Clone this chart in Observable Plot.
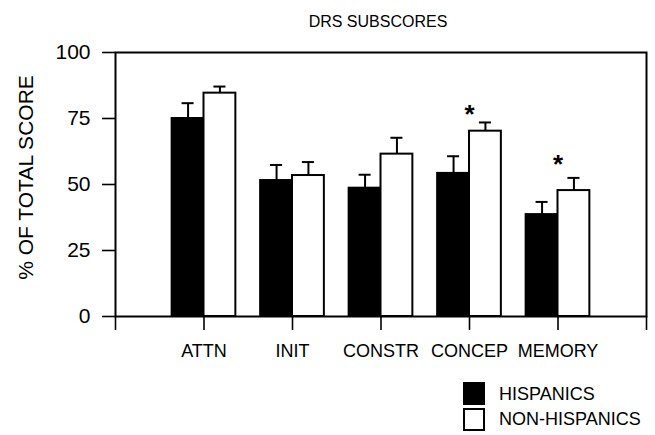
<!DOCTYPE html>
<html>
<head>
<meta charset="utf-8">
<script src="https://cdn.jsdelivr.net/npm/d3@7"></script>
<script src="https://cdn.jsdelivr.net/npm/@observablehq/plot@0.6"></script>
<style>
  html, body { margin: 0; padding: 0; background: #fff; }
  body { font-family: "Liberation Sans", Arial, sans-serif; color: #000; }
  #wrap { position: relative; width: 655px; height: 435px; overflow: hidden; }
  #title { position: absolute; left: 228px; width: 300px; top: 12.5px; text-align: center; font-size: 16px; line-height: normal; }
  #chart { position: absolute; left: 0; top: 0; }
  .sw { position: absolute; left: 463px; width: 22px; height: 23px; border: 2px solid #000; box-sizing: border-box; }
  .lg { position: absolute; left: 499px; font-size: 18px; line-height: normal; white-space: nowrap; }
</style>
</head>
<body>
<div id="wrap">
  <div id="title">DRS SUBSCORES</div>
  <div id="chart"></div>
  <div class="sw" style="top:382px;background:#000;"></div>
  <div class="lg" style="top:383.5px;">HISPANICS</div>
  <div class="sw" style="top:408px;background:#fff;"></div>
  <div class="lg" style="top:408.5px;">NON-HISPANICS</div>
</div>
<script>
const categories = ["ATTN", "INIT", "CONSTR", "CONCEP", "MEMORY"];
const groups = ["HISPANICS", "NON-HISPANICS"];
const hispanics = [75.0, 51.5, 48.6, 54.2, 38.6];
const hispanicsErr = [80.8, 57.4, 53.7, 60.7, 43.4];
const nonHispanics = [84.6, 53.4, 61.5, 70.2, 47.7];
const nonHispanicsErr = [87.1, 58.5, 67.7, 73.5, 52.5];
const starY = [null, null, null, 79, 60];
const yTicks = [0, 25, 50, 75, 100];
const yLabel = "% OF TOTAL SCORE";

const W = 0.36; // bar width in category units
const rows = categories.flatMap((c, k) => [
  {cat: c, i: k + 1, group: groups[0], side: -1, value: hispanics[k], err: hispanicsErr[k]},
  {cat: c, i: k + 1, group: groups[1], side: 1, value: nonHispanics[k], err: nonHispanicsErr[k]}
]);
const stars = categories.map((c, k) => ({i: k + 1, y: starY[k]})).filter(d => d.y != null);

const x1 = d => d.side < 0 ? d.i - W : d.i;
const x2 = d => d.side < 0 ? d.i : d.i + W;
const cx = d => d.i + d.side * W / 2;

const font = '"Liberation Sans", Arial, sans-serif';

const chart = Plot.plot({
  width: 655,
  height: 365,
  marginLeft: 115,
  marginRight: 9,
  marginTop: 52,
  marginBottom: 49,
  x: {domain: [0, 6]},
  y: {domain: [0, 100]},
  style: {fontFamily: font, color: "black", background: "transparent", overflow: "visible"},
  marks: [
    Plot.axisY({ticks: yTicks, tickSize: 13, tickPadding: 12, fontSize: 21, label: null, strokeWidth: 1.6, tickFormat: d => d}),
    Plot.axisX({ticks: d3.range(0, 7), tickSize: 14, tickFormat: () => "", label: null, strokeWidth: 1.6}),
    Plot.axisX({ticks: [1, 2, 3, 4, 5], tickSize: 0, tickPadding: 28, fontSize: 18, label: null, tickFormat: d => categories[d - 1]}),
    Plot.rect(rows.filter(d => d.side < 0), {x1, x2, y1: 0, y2: "value", fill: "black", stroke: "black", strokeWidth: 2}),
    Plot.rect(rows.filter(d => d.side > 0), {x1, x2, y1: 0, y2: "value", fill: "white", stroke: "black", strokeWidth: 2}),
    Plot.ruleX(rows, {x: cx, y1: "value", y2: "err", stroke: "black", strokeWidth: 2}),
    Plot.ruleY(rows, {y: "err", x1: d => cx(d) - 0.068, x2: d => cx(d) + 0.068, stroke: "black", strokeWidth: 2}),
    Plot.frame({stroke: "black", strokeWidth: 2}),
    Plot.text(stars, {x: "i", y: "y", text: () => "*", fontSize: 26, fontWeight: "bold", dy: 6.5}),
    Plot.text([yLabel], {text: d => d, frameAnchor: "left", textAnchor: "middle", lineAnchor: "middle", rotate: -90, dx: -89, dy: -7, fontSize: 21})
  ]
});
document.getElementById("chart").appendChild(chart);
</script>
</body>
</html>
